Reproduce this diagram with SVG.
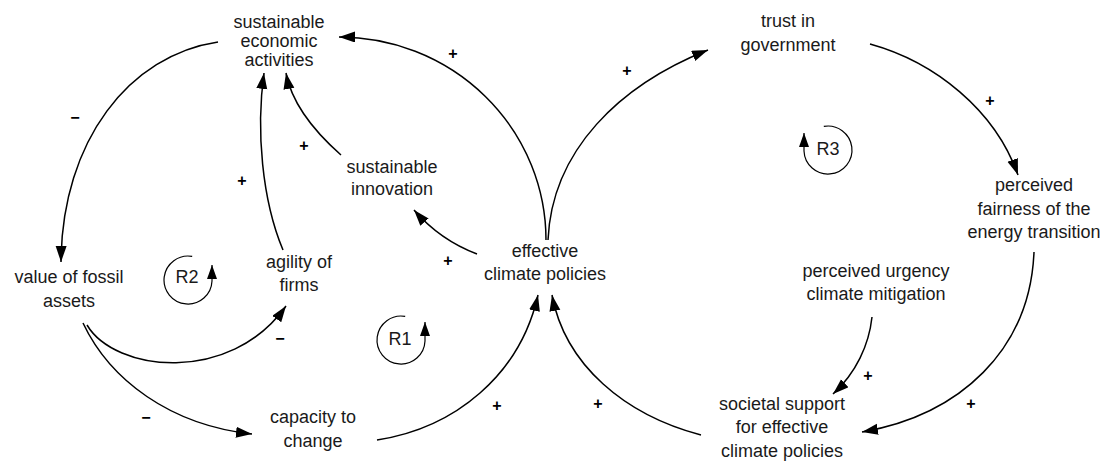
<svg xmlns="http://www.w3.org/2000/svg" width="1107" height="461" viewBox="0 0 1107 461">
<defs>
<marker id="ah" markerUnits="userSpaceOnUse" markerWidth="17" markerHeight="12" refX="16" refY="5.5" orient="auto">
<path d="M0,0 L16,5.5 L0,11 Z" fill="#000"/>
</marker>
<marker id="ahs" markerUnits="userSpaceOnUse" markerWidth="15" markerHeight="11" refX="14" refY="5" orient="auto">
<path d="M0,0 L14,5 L0,10 Z" fill="#000"/>
</marker>
<style>
.n{font-family:"Liberation Sans",Arial,Helvetica,sans-serif;font-size:18px;fill:#1a1a1a;text-anchor:middle}
.p{font-family:"Liberation Sans",Arial,Helvetica,sans-serif;font-size:16px;font-weight:bold;fill:#000;text-anchor:middle}
.c{fill:none;stroke:#000;stroke-width:1.5;marker-end:url(#ah)}
.l{fill:none;stroke:#000;stroke-width:1.2;marker-end:url(#ahs)}
</style>
</defs>
<rect width="1107" height="461" fill="#fff"/>
<g id="connectors">
<path class="c" d="M218,42 C130,55 62,140 61,262"/>
<path class="c" d="M546,240 A207,203 0 0 0 339,37"/>
<path class="c" d="M548,240 C552,150 620,85 708,50"/>
<path class="c" d="M870,44 C935,62 995,110 1018,175"/>
<path class="c" d="M1034,252 C1030,350 960,415 862,432"/>
<path class="c" d="M872,317 C869,345 856,373 833,394"/>
<path class="c" d="M701,435 C625,415 565,365 552,295"/>
<path class="c" d="M377,440 C455,428 520,375 538,295"/>
<path class="c" d="M477,254 Q440,240 414,210"/>
<path class="c" d="M341,155 C315,132 292,105 286,73"/>
<path class="c" d="M283,250 C262,200 256,130 264,73"/>
<path class="c" d="M87,325 C115,372 230,385 286,306"/>
<path class="c" d="M83,323 C110,380 170,425 252,434"/>
</g>
<g id="labels">
<text class="p" x="453" y="58.5">+</text>
<text class="p" x="75" y="122.5">−</text>
<text class="p" x="304" y="150.5">+</text>
<text class="p" x="242" y="185.5">+</text>
<text class="p" x="448" y="265.5">+</text>
<text class="p" x="627" y="75.5">+</text>
<text class="p" x="990" y="105.5">+</text>
<text class="p" x="868" y="380.5">+</text>
<text class="p" x="971" y="408.5">+</text>
<text class="p" x="598" y="408.5">+</text>
<text class="p" x="497" y="410.5">+</text>
<text class="p" x="280" y="343.5">−</text>
<text class="p" x="146" y="422.5">−</text>
</g>
<g id="loop-R1">
<path class="l" d="M405.2,316.4 A24,24 0 1 0 425,341 L425,322"/>
<text class="n" x="400" y="344.5">R1</text>
</g>
<g id="loop-R2">
<path class="l" d="M192.2,256.4 A24,24 0 1 0 212,281 L212,265"/>
<text class="n" x="187" y="282.5">R2</text>
</g>
<g id="loop-R3">
<path class="l" d="M823.8,126.4 A24,24 0 1 1 804,151 L804,133"/>
<text class="n" x="828" y="154.5">R3</text>
</g>
<g id="node-sustainable-economic-activities">
<text class="n" x="279" y="28">sustainable</text>
<text class="n" x="279" y="47">economic</text>
<text class="n" x="279" y="66">activities</text>
</g>
<g id="node-trust-in-government">
<text class="n" x="788" y="27">trust in</text>
<text class="n" x="788" y="51">government</text>
</g>
<g id="node-sustainable-innovation">
<text class="n" x="392" y="173">sustainable</text>
<text class="n" x="392" y="195">innovation</text>
</g>
<g id="node-effective-climate-policies">
<text class="n" x="545" y="257">effective</text>
<text class="n" x="545" y="280">climate policies</text>
</g>
<g id="node-perceived-fairness">
<text class="n" x="1034" y="191">perceived</text>
<text class="n" x="1034" y="215">fairness of the</text>
<text class="n" x="1034" y="238">energy transition</text>
</g>
<g id="node-value-of-fossil-assets">
<text class="n" x="69" y="283">value of fossil</text>
<text class="n" x="69" y="307">assets</text>
</g>
<g id="node-agility-of-firms">
<text class="n" x="299" y="268">agility of</text>
<text class="n" x="299" y="291">firms</text>
</g>
<g id="node-capacity-to-change">
<text class="n" x="313" y="423">capacity to</text>
<text class="n" x="313" y="447">change</text>
</g>
<g id="node-perceived-urgency">
<text class="n" x="876" y="277">perceived urgency</text>
<text class="n" x="876" y="300">climate mitigation</text>
</g>
<g id="node-societal-support">
<text class="n" x="782" y="410">societal support</text>
<text class="n" x="782" y="433">for effective</text>
<text class="n" x="782" y="457">climate policies</text>
</g>
</svg>
